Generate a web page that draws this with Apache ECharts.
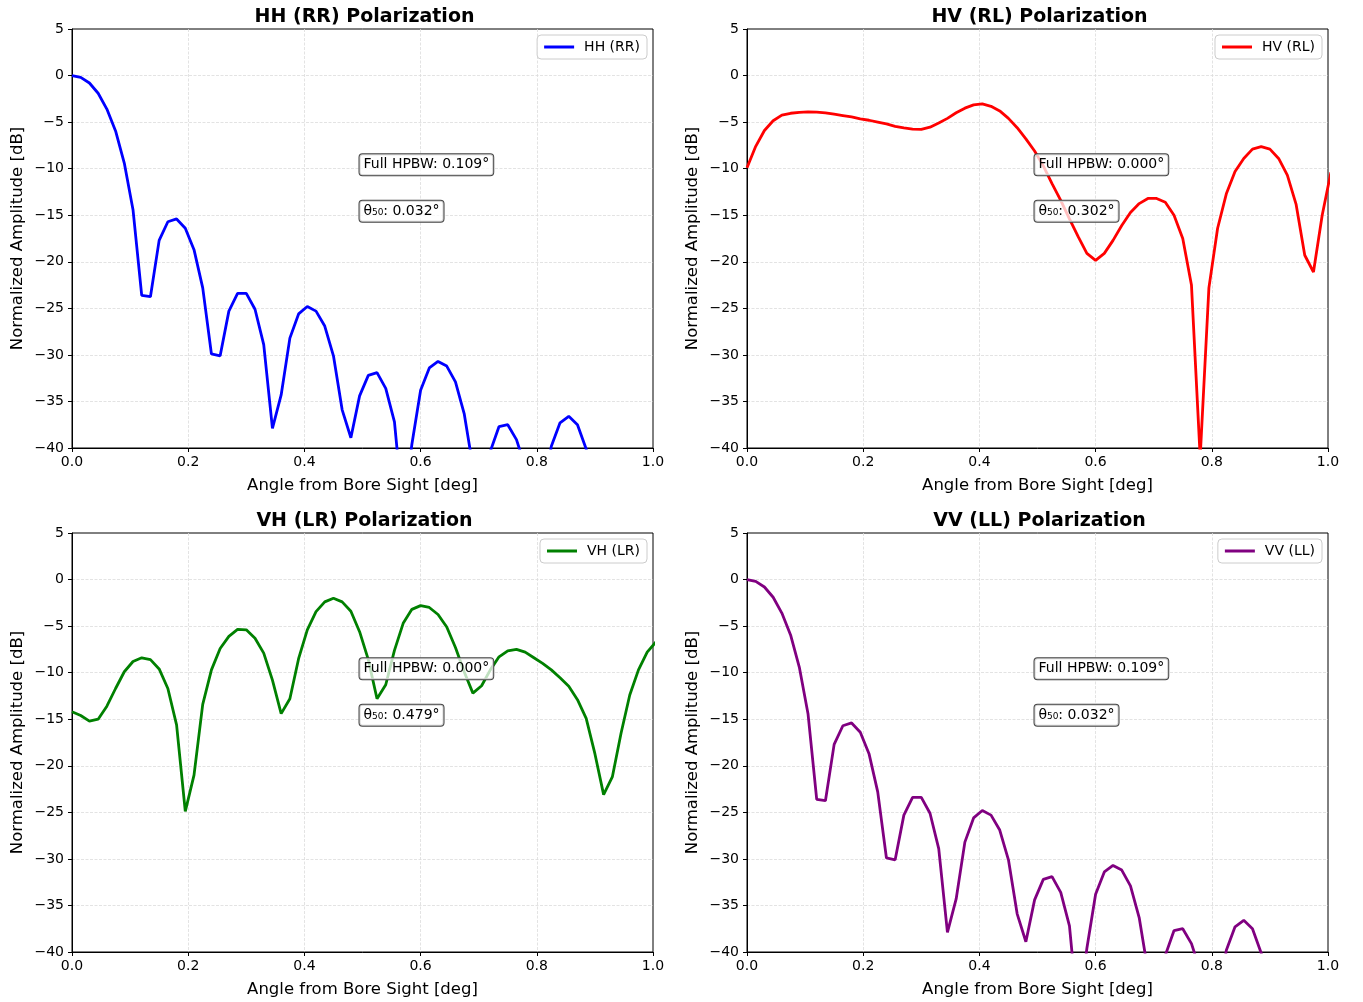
<!DOCTYPE html>
<html>
<head>
<meta charset="utf-8">
<script src="https://cdn.jsdelivr.net/npm/echarts@6/dist/echarts.min.js"></script>
<style>
  html, body { margin: 0; padding: 0; background: #fff; }
  #chart { width: 1363px; height: 1002px; }
</style>
</head>
<body>
<div id="chart"></div>
<script>
// angle samples (deg)
const angles = [0, 0.015, 0.03, 0.045, 0.06, 0.075, 0.09, 0.105, 0.12, 0.135,
  0.15, 0.165, 0.18, 0.195, 0.21, 0.225, 0.24, 0.255, 0.27, 0.285,
  0.3, 0.315, 0.33, 0.345, 0.36, 0.375, 0.39, 0.405, 0.42, 0.435,
  0.45, 0.465, 0.48, 0.495, 0.51, 0.525, 0.54, 0.555, 0.57, 0.585,
  0.6, 0.615, 0.63, 0.645, 0.66, 0.675, 0.69, 0.705, 0.72, 0.735,
  0.75, 0.765, 0.78, 0.795, 0.81, 0.825, 0.84, 0.855, 0.87, 0.885,
  0.9, 0.915, 0.93, 0.945, 0.96, 0.975, 0.99, 1.005];

// normalized amplitude [dB]
const hhValues = [0, -0.2, -0.8, -1.9, -3.6, -5.95, -9.4, -14.4, -23.6, -23.75,
  -17.7, -15.7, -15.4, -16.4, -18.7, -22.8, -29.9, -30.1, -25.3, -23.4,
  -23.4, -25.1, -28.9, -37.9, -34.3, -28.2, -25.6, -24.8, -25.3, -26.9,
  -30.1, -35.9, -38.9, -34.4, -32.2, -31.9, -33.6, -37.2, -47, -39.6,
  -33.8, -31.4, -30.7, -31.2, -32.9, -36.3, -42, -48, -40.35, -37.7,
  -37.5, -39.1, -42, -52, -46, -39.8, -37.3, -36.6, -37.5, -40.1,
  -45, -55, -49, -47, -51, -58, -50, -48];

const hvValues = [-9.9, -7.6, -5.9, -4.85, -4.25, -4.05, -3.95, -3.9, -3.92, -4.0,
  -4.15, -4.3, -4.45, -4.65, -4.8, -5.0, -5.2, -5.45, -5.62, -5.75,
  -5.78, -5.55, -5.1, -4.6, -4.0, -3.5, -3.15, -3.05, -3.3, -3.8,
  -4.6, -5.6, -6.8, -8.1, -9.7, -11.6, -13.4, -15.4, -17.3, -19.1,
  -19.85, -19.1, -17.7, -16.1, -14.7, -13.75, -13.2, -13.2, -13.6, -15.0,
  -17.5, -22.5, -41, -22.8, -16.4, -12.7, -10.3, -8.9, -7.9, -7.64,
  -7.9, -8.9, -10.7, -13.8, -19.3, -21.1, -15.0, -10.4];

const vhValues = [-14.2, -14.6, -15.2, -15.0, -13.6, -11.7, -9.9, -8.8, -8.4, -8.6,
  -9.6, -11.7, -15.6, -24.9, -21.0, -13.4, -9.7, -7.4, -6.1, -5.35,
  -5.4, -6.3, -7.9, -10.8, -14.4, -12.8, -8.5, -5.4, -3.45, -2.4,
  -2.0, -2.4, -3.4, -5.6, -8.6, -12.8, -11.3, -7.6, -4.7, -3.2,
  -2.8, -3.0, -3.75, -5.1, -7.3, -9.9, -12.2, -11.4, -9.7, -8.3,
  -7.65, -7.5, -7.8, -8.4, -9.0, -9.7, -10.55, -11.45, -12.9, -14.9,
  -18.7, -23.1, -21.2, -16.5, -12.4, -9.7, -7.8, -6.7];

const vvValues = [0, -0.2, -0.8, -1.9, -3.6, -5.95, -9.4, -14.4, -23.6, -23.75,
  -17.7, -15.7, -15.4, -16.4, -18.7, -22.8, -29.9, -30.1, -25.3, -23.4,
  -23.4, -25.1, -28.9, -37.9, -34.3, -28.2, -25.6, -24.8, -25.3, -26.9,
  -30.1, -35.9, -38.9, -34.4, -32.2, -31.9, -33.6, -37.2, -47, -39.6,
  -33.8, -31.4, -30.7, -31.2, -32.9, -36.3, -42, -48, -40.35, -37.7,
  -37.5, -39.1, -42, -52, -46, -39.8, -37.3, -36.6, -37.5, -40.1,
  -45, -55, -49, -47, -51, -58, -50, -48];

const seriesNames = ['HH (RR)', 'HV (RL)', 'VH (LR)', 'VV (LL)'];
const panelTitles = ['HH (RR) Polarization', 'HV (RL) Polarization', 'VH (LR) Polarization', 'VV (LL) Polarization'];
const hpbwLabels = ['0.109', '0.000', '0.000', '0.109'];
const theta50Labels = ['0.032', '0.302', '0.479', '0.032'];
const allValues = [hhValues, hvValues, vhValues, vvValues];
const colors = ['#0000ff', '#ff0000', '#008000', '#800080'];

const FONT = '"DejaVu Sans", sans-serif';
const panels = [
  { left: 72, top: 29 },
  { left: 747, top: 29 },
  { left: 72, top: 533 },
  { left: 747, top: 533 }
];
const W = 581, H = 419;

const chart = echarts.init(document.getElementById('chart'));

const gridLine = { show: true, showMinLine: false, showMaxLine: false,
  lineStyle: { color: '#dcdcdc', type: [3, 1.5], width: 0.8 } };

const option = {
  animation: false,
  backgroundColor: '#fff',
  title: panels.map((p, k) => ({
    text: panelTitles[k],
    left: p.left + W / 2 - 3,
    top: p.top - 26,
    textAlign: 'center',
    textStyle: { fontFamily: FONT, fontSize: 19, fontWeight: 'bold', color: '#000' }
  })),
  legend: panels.map((p, k) => ({
    data: [seriesNames[k]],
    right: 1363 - (p.left + W - 6),
    top: p.top + 6,
    icon: 'rect',
    itemWidth: 30,
    itemHeight: 3,
    padding: [5, 7, 5, 7],
    backgroundColor: 'rgba(255,255,255,0.8)',
    borderColor: '#cccccc',
    borderWidth: 1,
    borderRadius: 4,
    textStyle: { fontFamily: FONT, fontSize: 14, color: '#000', padding: [0, 0, 0, 5] }
  })),
  grid: panels.map(p => ({
    left: p.left, top: p.top, width: W, height: H,
    show: true, borderColor: '#000', borderWidth: 1, backgroundColor: 'transparent'
  })),
  xAxis: panels.map((p, k) => ({
    type: 'value',
    gridIndex: k,
    min: 0, max: 1, interval: 0.2,
    name: 'Angle from Bore Sight [deg]',
    nameLocation: 'middle',
    nameGap: 29,
    nameTextStyle: { fontFamily: FONT, fontSize: 16.5, color: '#000' },
    axisLine: { show: true, onZero: false, lineStyle: { color: '#000', width: 1 } },
    axisTick: { show: true, length: 4, lineStyle: { color: '#000' } },
    axisLabel: { fontFamily: FONT, fontSize: 14, color: '#000', margin: 7,
      formatter: v => v.toFixed(1) },
    splitLine: gridLine
  })),
  yAxis: panels.map((p, k) => ({
    type: 'value',
    gridIndex: k,
    min: -40, max: 5, interval: 5,
    name: 'Normalized Amplitude [dB]',
    nameLocation: 'middle',
    nameGap: 46,
    nameTextStyle: { fontFamily: FONT, fontSize: 16.5, color: '#000' },
    axisLine: { show: true, onZero: false, lineStyle: { color: '#000', width: 1 } },
    axisTick: { show: true, length: 4, lineStyle: { color: '#000' } },
    axisLabel: { fontFamily: FONT, fontSize: 14, color: '#000', margin: 8,
      formatter: v => String(v).replace('-', '\u2212') },
    splitLine: gridLine
  })),
  series: allValues.map((vals, k) => ({
    name: seriesNames[k],
    type: 'line',
    xAxisIndex: k,
    yAxisIndex: k,
    data: angles.map((a, i) => [a, vals[i]]),
    showSymbol: false,
    clip: true,
    color: colors[k],
    lineStyle: { width: 2.8, color: colors[k] },
    emphasis: { disabled: true }
  }))
};

chart.setOption(option);

// annotation boxes placed at data coordinates (0.5, -10) and (0.5, -15)
const graphics = [];
panels.forEach((p, k) => {
  const lines = ['Full HPBW: ' + hpbwLabels[k] + '\u00b0', '\u03b8\u2085\u2080: ' + theta50Labels[k] + '\u00b0'];
  [-10, -15].forEach((yv, j) => {
    const pt = chart.convertToPixel({ gridIndex: k }, [0.5, yv]);
    graphics.push({
      type: 'text',
      x: pt[0] - 3,
      y: pt[1] - 4,
      z: 100,
      style: {
        text: lines[j],
        font: '14px ' + FONT,
        fill: '#000',
        align: 'left',
        verticalAlign: 'middle',
        backgroundColor: 'rgba(255,255,255,0.75)',
        borderColor: '#444',
        borderWidth: 1,
        borderRadius: 3,
        padding: [4, 4, 3, 4]
      }
    });
  });
});
chart.setOption({ graphic: graphics });
</script>
</body>
</html>
